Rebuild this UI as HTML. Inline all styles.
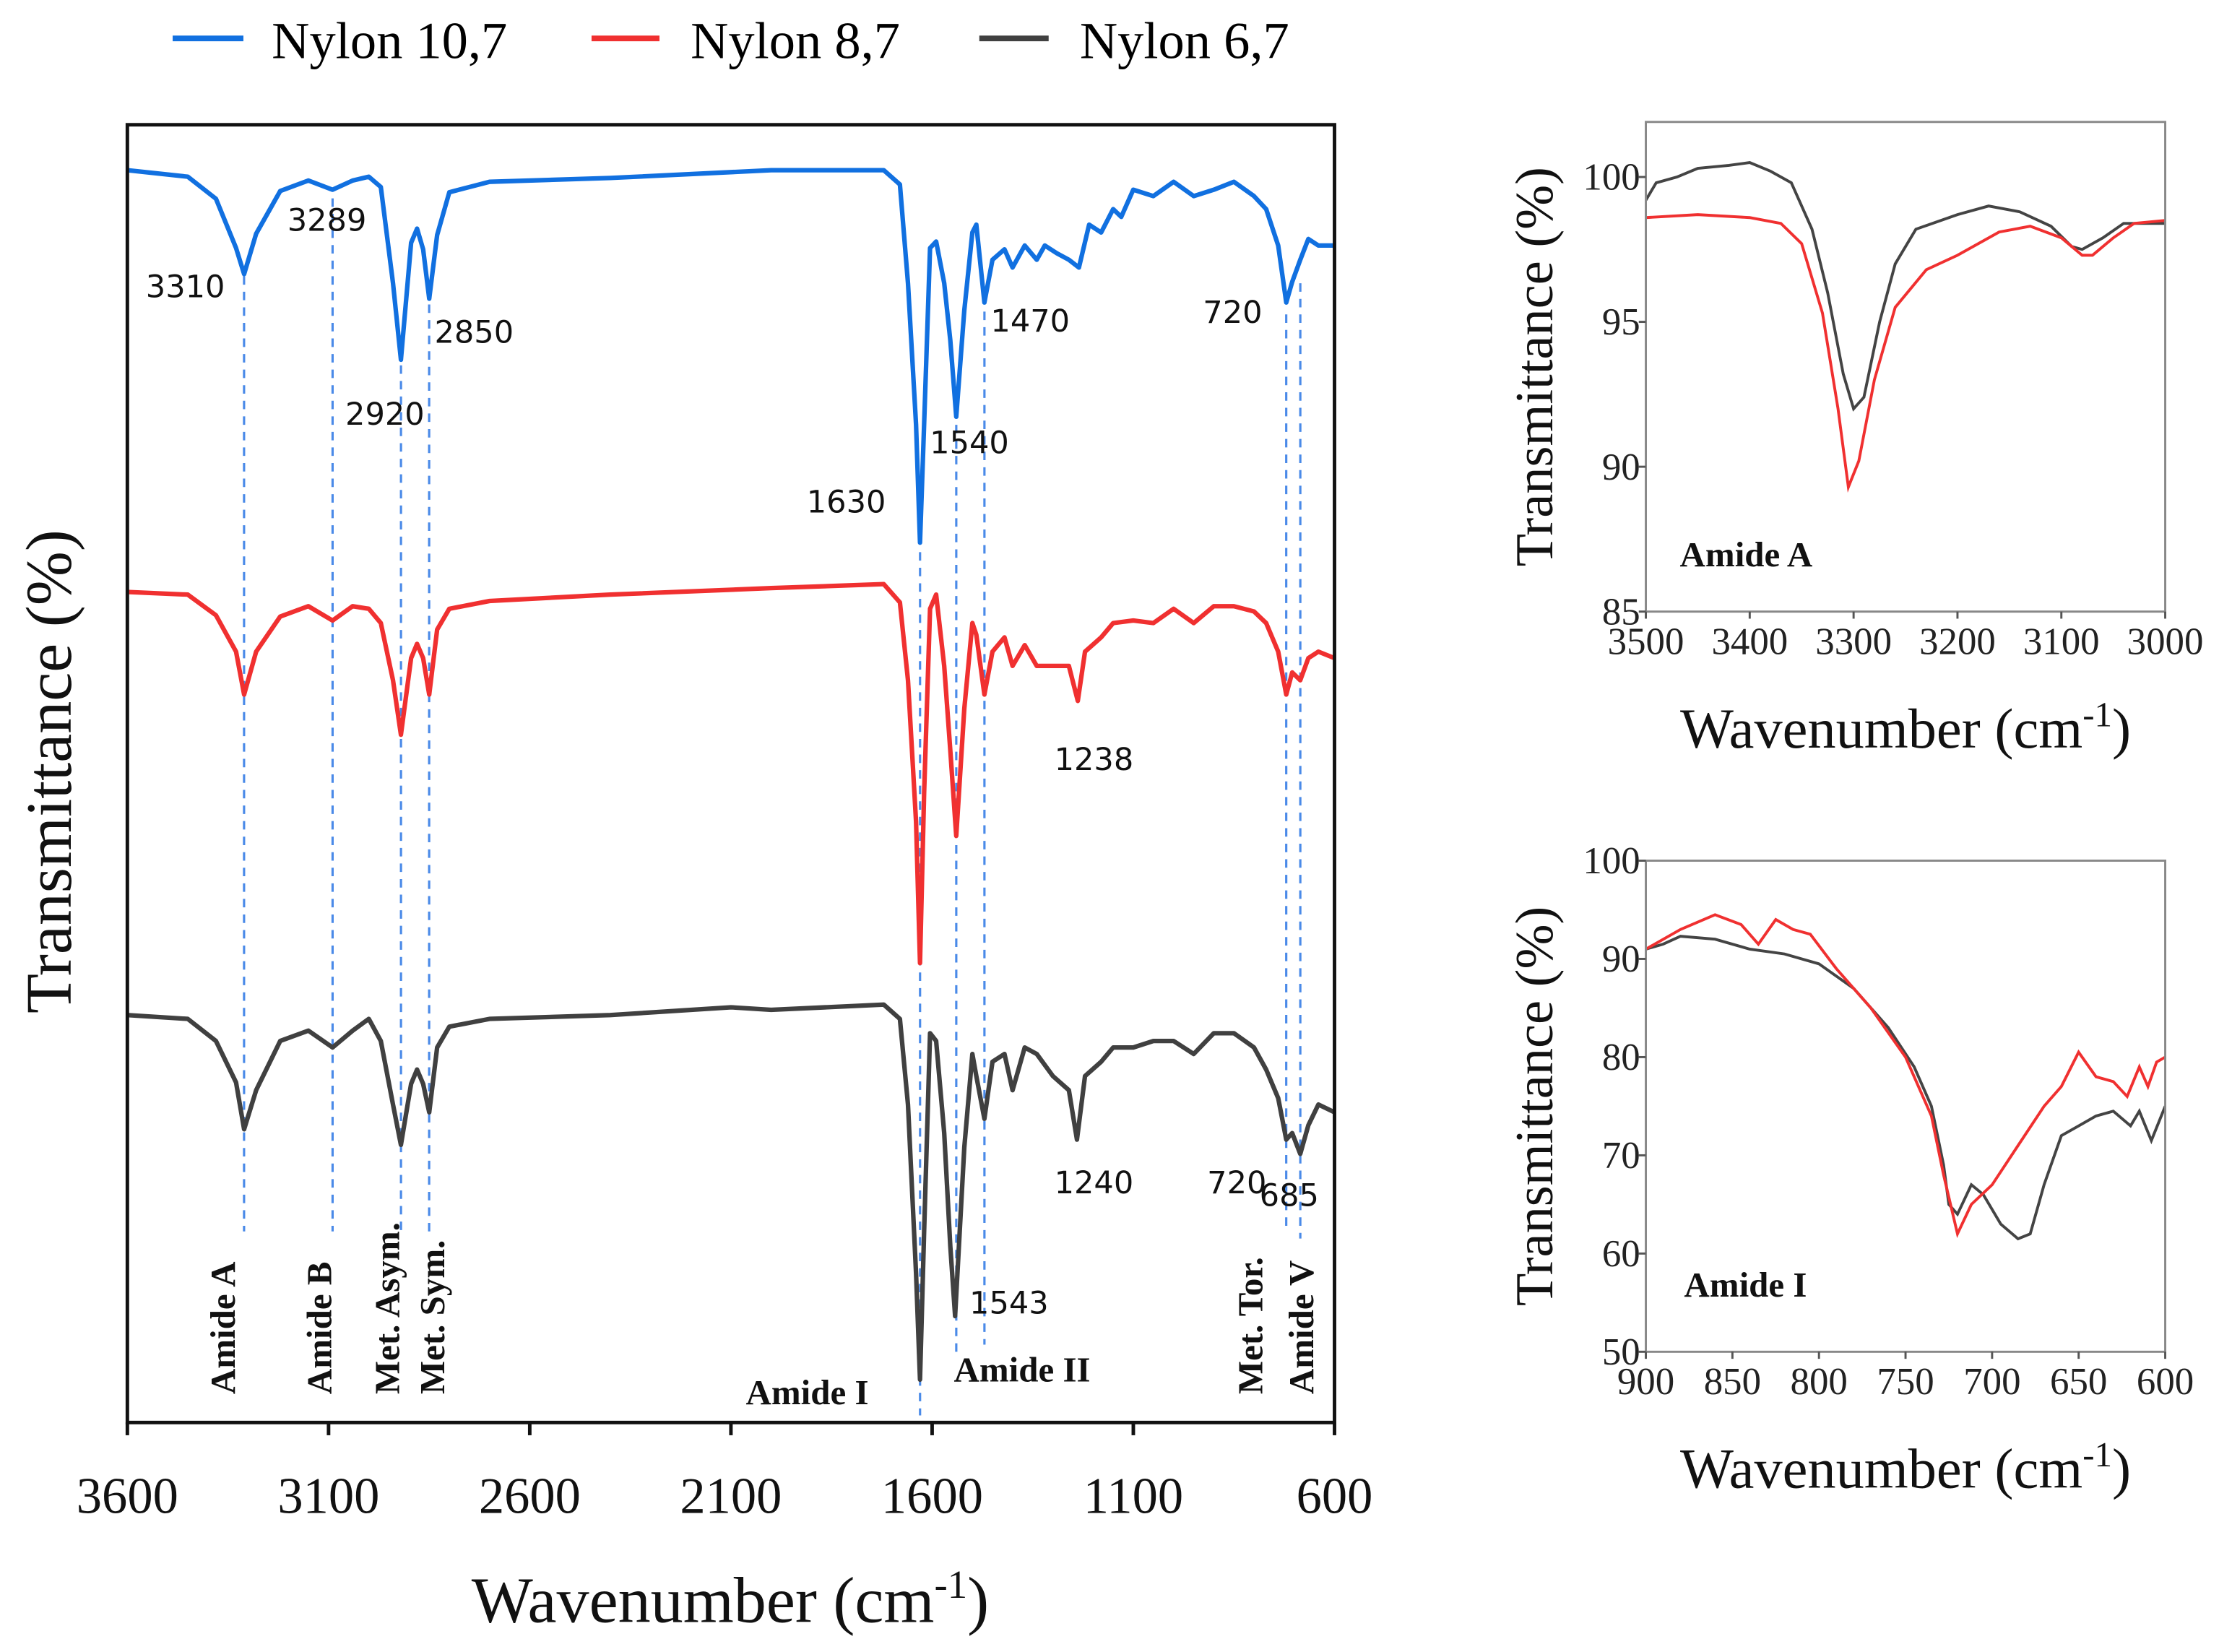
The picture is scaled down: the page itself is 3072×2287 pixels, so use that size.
<!DOCTYPE html>
<html><head><meta charset="utf-8"><style>
html,body{margin:0;padding:0;background:#fff}
svg{display:block}
.serif{font-family:"Liberation Serif",serif}
.mono{font-family:"DejaVu Sans","Liberation Sans",sans-serif}
</style></head><body>
<svg id="fig" width="3072" height="2287" viewBox="0 0 1568 1167" xmlns="http://www.w3.org/2000/svg">
<rect width="1568" height="1167" fill="#fff"/>
<g id="legend" class="serif" font-size="37">
 <g><line x1="122" y1="27" x2="172" y2="27" stroke="#1170e0" stroke-width="4"/><text x="192" y="41">Nylon 10,7</text></g>
 <g><line x1="418" y1="27" x2="466" y2="27" stroke="#f03030" stroke-width="4"/><text x="488" y="41">Nylon 8,7</text></g>
 <g><line x1="692" y1="27" x2="741" y2="27" stroke="#404040" stroke-width="4"/><text x="763" y="41">Nylon 6,7</text></g>
</g>
<g id="main"></g>
<g id="inset1"></g>
<g id="inset2"></g>
</svg>
<script>
// ---- main chart data (wavenumber, offset transmittance units 0-100) ----
const blueWn=[3600,3450,3380,3330,3310,3280,3220,3150,3090,3040,3000,2970,2940,2920,2895,2880,2865,2850,2830,2800,2700,2400,2000,1720,1680,1660,1640,1630,1620,1605,1590,1570,1555,1540,1520,1500,1490,1470,1450,1420,1400,1370,1340,1320,1290,1260,1235,1210,1180,1150,1130,1100,1050,1000,950,900,850,800,770,740,720,705,685,665,640,600];
const blueVal=[96.5,96,94.3,90.5,88.5,91.6,94.9,95.7,95,95.7,96,95.2,87.8,81.9,90.9,92,90.4,86.6,91.5,94.8,95.6,95.9,96.5,96.5,95.4,87.8,76.9,67.8,76.9,90.5,91,87.8,83.4,77.5,85.7,91.7,92.3,86.3,89.6,90.4,89,90.7,89.6,90.7,90.1,89.6,89,92.3,91.7,93.5,92.9,95,94.5,95.6,94.5,95,95.6,94.5,93.5,90.7,86.3,87.9,89.6,91.2,90.7,90.7];
const redWn=[3600,3450,3380,3330,3310,3280,3220,3150,3090,3040,3000,2970,2940,2920,2895,2880,2865,2850,2830,2800,2700,2400,2000,1720,1680,1660,1640,1630,1620,1605,1590,1570,1555,1540,1520,1500,1490,1470,1450,1420,1400,1370,1340,1300,1260,1238,1220,1180,1150,1100,1050,1000,950,900,850,800,770,740,720,705,685,665,640,600];
const redVal=[64,63.8,62.2,59.4,56.1,59.4,62.1,62.9,61.8,62.9,62.7,61.6,57.2,53,58.9,60,58.9,56.1,61.1,62.7,63.3,63.8,64.3,64.6,63.2,57.2,46.3,35.4,48.5,62.7,63.8,58.3,51.8,45.2,55,61.6,60.7,56.1,59.4,60.5,58.3,59.9,58.3,58.3,58.3,55.6,59.4,60.5,61.6,61.8,61.6,62.7,61.6,62.9,62.9,62.5,61.6,59.4,56.1,57.8,57.2,58.9,59.4,58.9];
const blackWn=[3600,3450,3380,3330,3310,3280,3220,3150,3090,3040,3000,2970,2940,2920,2895,2880,2865,2850,2830,2800,2700,2400,2100,2000,1720,1680,1660,1640,1630,1620,1605,1590,1570,1555,1543,1520,1500,1490,1470,1450,1420,1400,1370,1340,1300,1260,1240,1220,1180,1150,1100,1050,1000,950,900,850,800,770,740,720,705,685,665,640,600];
const blackVal=[31.4,31.1,29.4,26.2,22.6,25.6,29.4,30.2,28.9,30.2,31.1,29.4,24.5,21.4,26.1,27.2,26.1,23.9,28.9,30.5,31.1,31.4,32,31.8,32.2,31.1,24.5,11.5,3.3,14.7,30,29.4,22.3,13.6,8.2,21.2,28.4,26.7,23.4,27.8,28.4,25.6,28.9,28.4,26.7,25.6,21.8,26.7,27.8,28.9,28.9,29.4,29.4,28.4,30,30,28.9,27.2,25,21.8,22.3,20.7,22.9,24.5,23.9];
const mainXTicks=[3600,3100,2600,2100,1600,1100,600];
const peakLines=[3310,3090,2920,2850,1630,1540,1470,720,685];
const peakTop=[195,140,258,215,390,300,220,222,200];
const peakBottom=[870,870,870,870,1000,960,950,870,875];
// ---- inset A data ----
const aWn=[3500,3490,3470,3450,3420,3400,3380,3360,3340,3325,3310,3300,3290,3275,3260,3240,3200,3170,3140,3110,3090,3080,3060,3040,3000];
const aGray=[99.2,99.8,100,100.3,100.4,100.5,100.2,99.8,98.2,96,93.2,92,92.4,95,97,98.2,98.7,99,98.8,98.3,97.6,97.5,97.9,98.4,98.4];
const aRedWn=[3500,3450,3400,3370,3350,3330,3315,3305,3295,3280,3260,3230,3200,3160,3130,3100,3080,3070,3050,3030,3000];
const aRed=[98.6,98.7,98.6,98.4,97.7,95.3,92,89.3,90.2,93,95.5,96.8,97.3,98.1,98.3,97.9,97.3,97.3,97.9,98.4,98.5];
const aXTicks=[3500,3400,3300,3200,3100,3000];
const aYTicks=[85,90,95,100];
// ---- inset I data ----
const iWn=[900,890,880,860,840,820,800,780,760,745,735,728,725,720,712,705,695,685,678,670,660,650,640,630,620,615,608,600];
const iGray=[91,91.5,92.3,92,91,90.5,89.5,87,83,79,75,69,65,64,67,66,63,61.5,62,67,72,73,74,74.5,73,74.5,71.5,75];
const iRedWn=[900,880,860,845,835,825,815,805,790,770,750,735,728,720,712,700,685,670,660,650,640,630,622,615,610,605,600];
const iRed=[91,93,94.5,93.5,91.5,94,93,92.5,89,85,80,74,68,62,65,67,71,75,77,80.5,78,77.5,76,79,77,79.5,80];
const iXTicks=[900,850,800,750,700,650,600];
const iYTicks=[50,60,70,80,90,100];

const NS="http://www.w3.org/2000/svg";
function mk(parent,tag,attrs){const e=document.createElementNS(NS,tag);for(const k in attrs)e.setAttribute(k,attrs[k]);parent.appendChild(e);return e;}
function linScale(d0,d1,r0,r1){return v=>r0+(v-d0)/(d1-d0)*(r1-r0);}
function pathD(xs,ys,sx,sy){return xs.map((x,i)=>(i?'L':'M')+sx(x).toFixed(1)+','+sy(ys[i]).toFixed(1)).join('');}

// ---------- main ----------
const gm=document.getElementById('main');


const L=90,R=943,T=88,B=1005;
const sx=linScale(3600,600,L,R), sy=linScale(0,100,B,T);
peakLines.forEach((w,i)=>{
 const l=mk(gm,'line',{x1:sx(w),x2:sx(w),y1:peakTop[i],y2:peakBottom[i],stroke:'#4a8ae8','stroke-width':1.6,'stroke-dasharray':'6,5'});
 
 
});
[[blueWn,blueVal,'#1170e0','nylon-10-7'],[redWn,redVal,'#f03030','nylon-8-7'],[blackWn,blackVal,'#404040','nylon-6-7']].forEach(s=>{
 const p=mk(gm,'path',{d:pathD(s[0],s[1],sx,sy),fill:'none',stroke:s[2],'stroke-width':3.2,'stroke-linejoin':'round'});
 
 
});
const fr=mk(gm,'rect',{x:L,y:T,width:R-L,height:B-T,fill:'none',stroke:'#111','stroke-width':2.5});


mainXTicks.forEach(t=>{
 mk(gm,'line',{x1:sx(t),x2:sx(t),y1:B,y2:B+9,stroke:'#111','stroke-width':2.5});
 const tx=mk(gm,'text',{x:sx(t),y:1069,'text-anchor':'middle','font-size':36,class:'serif',fill:'#111'});
 tx.textContent=t;
 
 
});
const xt=mk(gm,'text',{x:516,y:1146,'text-anchor':'middle','font-size':46,class:'serif',fill:'#111'});
xt.innerHTML='Wavenumber (cm<tspan dy="-17" font-size="28">-1</tspan><tspan dy="17">)</tspan>';


const yt=mk(gm,'text',{x:0,y:0,transform:'translate(50,545) rotate(-90)','text-anchor':'middle','font-size':46,class:'serif',fill:'#111'});
yt.textContent='Transmittance (%)';


const numLabels=[['3310',103,210],['3289',203,163],['2920',244,300],['2850',307,242],['1630',570,362],['1540',657,320],['1470',700,234],['720',850,228],['1238',745,544],['1240',745,843],['720',853,843],['685',890,852],['1543',685,928]];
numLabels.forEach(n=>{
 const t=mk(gm,'text',{x:n[1],y:n[2],'font-size':22,class:'mono',fill:'#111'});
 t.textContent=n[0];
 
 
});
const rotLabels=[['Amide A',166],['Amide B',234],['Met. Asym.',282],['Met. Sym.',314],['Met. Tor.',892],['Amide V',928]];
rotLabels.forEach(r=>{
 const t=mk(gm,'text',{x:0,y:0,transform:'translate('+r[1]+',985) rotate(-90)','font-size':25,'font-weight':'bold',class:'serif',fill:'#111'});
 t.textContent=r[0];
 
 
});
[['Amide I',527,992],['Amide II',674,976]].forEach(r=>{
 const t=mk(gm,'text',{x:r[1],y:r[2],'font-size':25,'font-weight':'bold',class:'serif',fill:'#111'});
 t.textContent=r[0];
 
 
});

// ---------- insets ----------
function inset(id,name,x0,x1,y0,y1,dx0,dx1,dy0,dy1,xticks,yticks,series,label,lx,ly){
 const g=document.getElementById(id);
 
 
 const fx=linScale(dx0,dx1,x0,x1), fy=linScale(dy0,dy1,y1,y0);
 const cp=mk(g,'clipPath',{id:id+'c'});mk(cp,'rect',{x:x0,y:y0,width:x1-x0,height:y1-y0});
 series.forEach(s=>{
  const p=mk(g,'path',{d:pathD(s[0],s[1],fx,fy),fill:'none',stroke:s[2],'stroke-width':2,'clip-path':'url(#'+id+'c)'});
  
  
 });
 const f=mk(g,'rect',{x:x0,y:y0,width:x1-x0,height:y1-y0,fill:'none',stroke:'#888','stroke-width':1.5});
 
 
 xticks.forEach(t=>{
  mk(g,'line',{x1:fx(t),x2:fx(t),y1:y1,y2:y1+5,stroke:'#555','stroke-width':1.5});
  const tx=mk(g,'text',{x:fx(t),y:y1+30,'text-anchor':'middle','font-size':27,class:'serif',fill:'#222'});
  tx.textContent=t;
  
  
 });
 yticks.forEach(t=>{
  mk(g,'line',{x1:x0-5,x2:x0,y1:fy(t),y2:fy(t),stroke:'#555','stroke-width':1.5});
  const tx=mk(g,'text',{x:x0-4,y:fy(t)+9,'text-anchor':'end','font-size':27,class:'serif',fill:'#222'});
  tx.textContent=t;
  
  
 });
 const xtt=mk(g,'text',{x:(x0+x1)/2,y:y1+96,'text-anchor':'middle','font-size':40,class:'serif',fill:'#111'});
 xtt.innerHTML='Wavenumber (cm<tspan dy="-15" font-size="25">-1</tspan><tspan dy="15">)</tspan>';
 
 
 const ytt=mk(g,'text',{x:0,y:0,transform:'translate(1097,'+((y0+y1)/2)+') rotate(-90)','text-anchor':'middle','font-size':38,class:'serif',fill:'#111'});
 ytt.textContent='Transmittance (%)';
 
 
 const lb=mk(g,'text',{x:lx,y:ly,'font-size':25,'font-weight':'bold',class:'serif',fill:'#111'});
 lb.textContent=label;
 
 
}
inset('inset1','amide-a-inset',1163,1530,86,432,3500,3000,85,101.9,aXTicks,aYTicks,[[aWn,aGray,'#444','nylon-6-7'],[aRedWn,aRed,'#f03030','nylon-8-7']],'Amide A',1187,400);
inset('inset2','amide-i-inset',1163,1530,608,955,900,600,50,100,iXTicks,iYTicks,[[iWn,iGray,'#444','nylon-6-7'],[iRedWn,iRed,'#f03030','nylon-8-7']],'Amide I',1190,916);
</script>
</body></html>
